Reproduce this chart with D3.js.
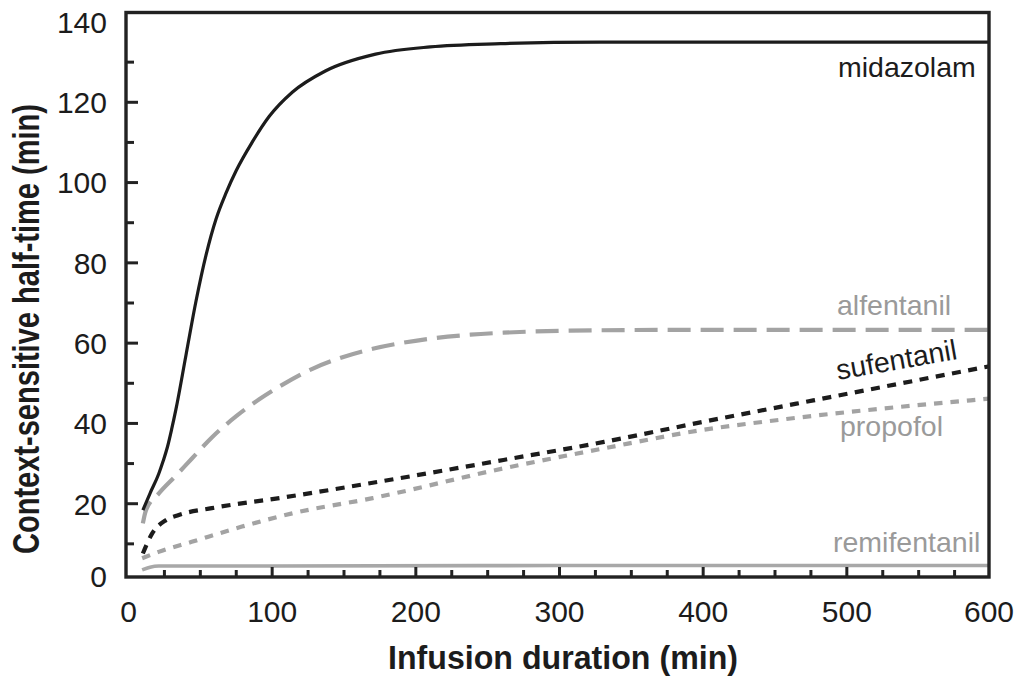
<!DOCTYPE html>
<html>
<head>
<meta charset="utf-8">
<script src="https://cdn.jsdelivr.net/npm/d3@7.9.0/dist/d3.min.js"></script>
<style>
  body { margin: 0; background: #fff; }
  svg { display: block; font-family: "Liberation Sans", Arial, Helvetica, sans-serif; }
</style>
</head>
<body>
<svg id="chart" width="1020" height="677"></svg>
<script>
// values: infusion duration (min) -> half-time (min)
const midazolamT = [10, 15, 21, 24, 27, 30, 33, 40, 47, 54, 61, 68, 75, 86, 98, 114, 137, 172, 210, 259, 328, 600];
const midazolamV = [18.4, 22.6, 27.4, 30.5, 34, 38.5, 43.5, 57, 70.5, 82, 91, 97.5, 103, 110, 116.5, 122.5, 127.8, 132, 133.8, 134.6, 135, 135];

const alfentanilT = [10, 12, 21, 33, 44, 58, 75, 91, 107, 128, 149, 170, 191, 214, 238, 261, 307, 377, 600];
const alfentanilV = [15.1, 18.2, 22.5, 27.0, 31.2, 36.5, 41.8, 46.0, 49.6, 53.6, 56.5, 58.6, 60.1, 61.3, 62.1, 62.6, 63.1, 63.3, 63.3];

const sufentanilT = [10, 16.5, 26, 35, 58, 105, 168, 261, 331, 400, 456, 600];
const sufentanilV = [7.6, 12.6, 15.9, 17.2, 18.9, 21.4, 25.1, 30.9, 35.4, 40.4, 44.3, 54.3];

const propofolT = [9.5, 21, 44, 79, 114, 170, 261, 331, 400, 458, 600];
const propofolV = [6.4, 8.0, 10.5, 14.3, 17.6, 21.4, 28.8, 33.8, 38.4, 41.1, 46.2];

const remifentanilT = [9.5, 15, 21, 100, 300, 600];
const remifentanilV = [3.5, 4.2, 4.5, 4.5, 4.6, 4.6];

const xTickLabels = [0, 100, 200, 300, 400, 500, 600];
const yTickLabels = [0, 20, 40, 60, 80, 100, 120, 140];

const drugNames = ['midazolam', 'alfentanil', 'sufentanil', 'propofol', 'remifentanil'];

// frame of the plot
const frame = { left: 126, right: 989, top: 12.5, bottom: 577 };

let svg = d3.select('#chart');
svg.append('rect').attr('width', 1020).attr('height', 677).attr('fill', '#fff');

let x = d3.scaleLinear().domain([0, 600]).range([128.5, 990.5]);
let y = d3.scaleLinear().domain([0, 140]).range([584, 22]);

// line styles, one per drug
const styles = {
  midazolam:    { color: '#1c1c1c', width: 3.2, dash: null },
  alfentanil:   { color: '#a3a3a3', width: 4.2, dash: '23,10' },
  sufentanil:   { color: '#1c1c1c', width: 4.2, dash: '9,7.5' },
  propofol:     { color: '#a3a3a3', width: 4.2, dash: '8.5,8' },
  remifentanil: { color: '#a8a8a8', width: 3.6, dash: null }
};

let series = [
  { name: 'midazolam', t: midazolamT, v: midazolamV },
  { name: 'alfentanil', t: alfentanilT, v: alfentanilV },
  { name: 'sufentanil', t: sufentanilT, v: sufentanilV },
  { name: 'propofol', t: propofolT, v: propofolV },
  { name: 'remifentanil', t: remifentanilT, v: remifentanilV }
];

let line = d3.line()
  .x((d) => x(d[0]))
  .y((d) => y(d[1]))
  .curve(d3.curveMonotoneX);

svg.append('clipPath').attr('id', 'plotclip')
  .append('rect')
  .attr('x', frame.left).attr('y', frame.top)
  .attr('width', frame.right - frame.left).attr('height', frame.bottom - frame.top);

// draw back to front so the black lines sit on top
['remifentanil', 'propofol', 'alfentanil', 'sufentanil', 'midazolam'].forEach((name) => {
  let s = series.find((d) => d.name === name);
  let st = styles[name];
  svg.append('path')
    .attr('d', line(d3.zip(s.t, s.v)))
    .attr('fill', 'none')
    .attr('stroke', st.color)
    .attr('stroke-width', st.width)
    .attr('stroke-dasharray', st.dash)
    .attr('clip-path', 'url(#plotclip)');
});

// ticks: minor every 10 on y, every 25 on x, pointing inward
let yTicks = d3.range(10, 140, 10);
svg.selectAll('.ytick').data(yTicks).join('line')
  .attr('x1', frame.left)
  .attr('x2', (d) => frame.left + (d % 20 === 0 ? 12 : 8))
  .attr('y1', (d) => y(d)).attr('y2', (d) => y(d))
  .attr('stroke', '#222').attr('stroke-width', 3);

let xTicks = d3.range(25, 600, 25);
svg.selectAll('.xtick').data(xTicks).join('line')
  .attr('x1', (d) => x(d)).attr('x2', (d) => x(d))
  .attr('y1', frame.bottom)
  .attr('y2', (d) => frame.bottom - (d % 100 === 0 ? 10 : 7))
  .attr('stroke', '#222').attr('stroke-width', 3);

// frame box
svg.append('rect')
  .attr('x', frame.left).attr('y', frame.top)
  .attr('width', frame.right - frame.left).attr('height', frame.bottom - frame.top)
  .attr('fill', 'none').attr('stroke', '#222').attr('stroke-width', 3.4);

// tick labels (end ones sit on the frame)
svg.selectAll('.ylab').data(yTickLabels).join('text')
  .attr('x', 107)
  .attr('y', (d) => Math.max(frame.top + 2, Math.min(frame.bottom - 1, y(d))))
  .attr('dy', '0.36em')
  .attr('text-anchor', 'end')
  .attr('font-size', 30)
  .attr('fill', '#1c1c1c')
  .text((d) => d);

svg.selectAll('.xlab').data(xTickLabels).join('text')
  .attr('x', (d) => Math.min(frame.right, Math.max(frame.left, x(d))))
  .attr('y', 621.5)
  .attr('text-anchor', 'middle')
  .attr('font-size', 30)
  .attr('fill', '#1c1c1c')
  .text((d) => d);

// axis titles
svg.append('text')
  .attr('x', 563).attr('y', 669)
  .attr('text-anchor', 'middle')
  .attr('font-size', 34).attr('font-weight', 'bold')
  .attr('textLength', 350).attr('lengthAdjust', 'spacingAndGlyphs')
  .attr('fill', '#1c1c1c')
  .text('Infusion duration (min)');

svg.append('text')
  .attr('transform', 'translate(39,329) rotate(-90)')
  .attr('text-anchor', 'middle')
  .attr('font-size', 37).attr('font-weight', 'bold')
  .attr('textLength', 450).attr('lengthAdjust', 'spacingAndGlyphs')
  .attr('fill', '#1c1c1c')
  .text('Context-sensitive half-time (min)');

// drug labels inside the plot
const labelPos = {
  midazolam:    { x: 838, y: 77, rot: 0, color: '#1c1c1c' },
  alfentanil:   { x: 837, y: 315, rot: 0, color: '#9a9a9a' },
  sufentanil:   { x: 838, y: 380, rot: -10, color: '#1c1c1c' },
  propofol:     { x: 840, y: 436, rot: 0, color: '#9a9a9a' },
  remifentanil: { x: 833, y: 552, rot: 0, color: '#9a9a9a' }
};

drugNames.forEach((name) => {
  let p = labelPos[name];
  svg.append('text')
    .attr('transform', `translate(${p.x},${p.y}) rotate(${p.rot})`)
    .attr('font-size', 28.5)
    .attr('fill', p.color)
    .text(name);
});
</script>
</body>
</html>
